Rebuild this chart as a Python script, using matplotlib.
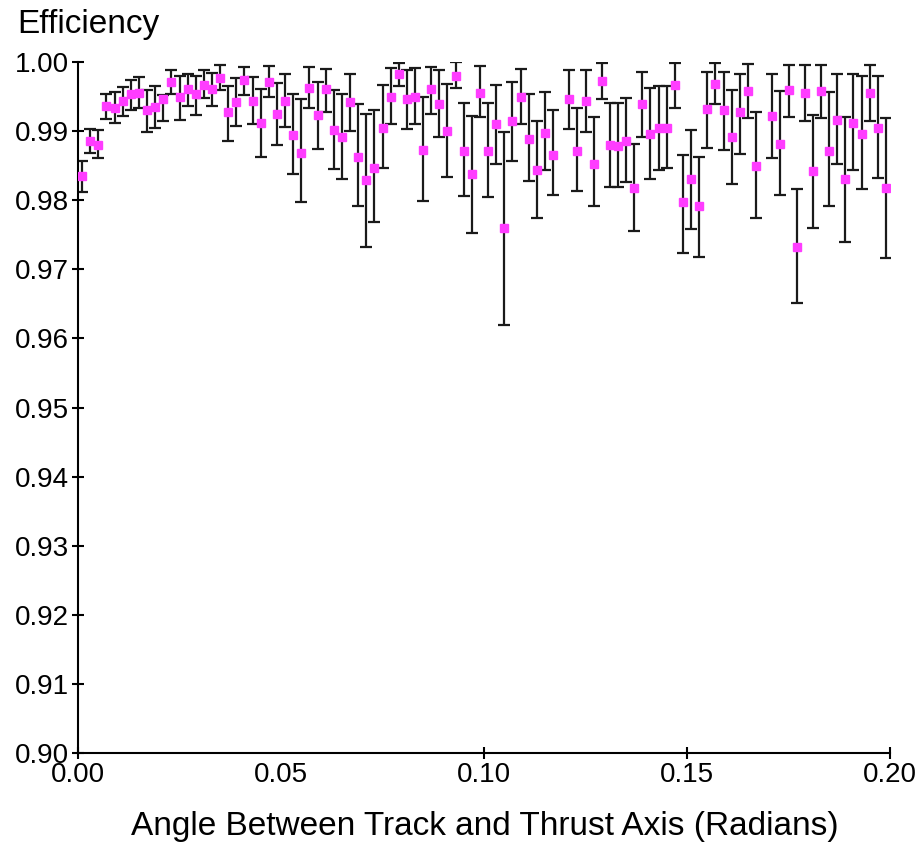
import matplotlib
matplotlib.use("Agg")
import matplotlib.pyplot as plt
import numpy as np

plt.rcParams["font.family"] = ["Liberation Sans", "DejaVu Sans"]

# bin centres (radians); two bins have no entry
angle = [
    0.001, 0.003, 0.005, 0.007, 0.009, 0.011, 0.013, 0.015, 0.017, 0.019,
    0.021, 0.023, 0.025, 0.027, 0.029, 0.031, 0.033, 0.035, 0.037, 0.039,
    0.041, 0.043, 0.045, 0.047, 0.049, 0.051, 0.053, 0.055, 0.057, 0.059,
    0.061, 0.063, 0.065, 0.067, 0.069, 0.071, 0.073, 0.075, 0.077, 0.079,
    0.081, 0.083, 0.085, 0.087, 0.089, 0.091, 0.093, 0.095, 0.097, 0.099,
    0.101, 0.103, 0.105, 0.107, 0.109, 0.111, 0.113, 0.115, 0.117, 0.119,
    0.121, 0.123, 0.125, 0.127, 0.129, 0.131, 0.133, 0.135, 0.137, 0.139,
    0.141, 0.143, 0.145, 0.147, 0.149, 0.151, 0.153, 0.155, 0.157, 0.159,
    0.161, 0.163, 0.165, 0.167, 0.169, 0.171, 0.173, 0.175, 0.177, 0.179,
    0.181, 0.183, 0.185, 0.187, 0.189, 0.191, 0.193, 0.195, 0.197, 0.199,
]
efficiency = [
    0.9835, 0.9886, 0.9880, 0.9936, 0.9934, 0.9944, 0.9953, 0.9955, 0.9930, 0.9935,
    0.9947, 0.9971, 0.9950, 0.9961, 0.9953, 0.9967, 0.9961, 0.9977, 0.9927, 0.9942,
    0.9974, 0.9944, 0.9912, 0.9971, 0.9925, 0.9944, 0.9894, 0.9868, 0.9963, 0.9923,
    0.9961, 0.9902, 0.9891, 0.9942, 0.9863, 0.9829, 0.9847, 0.9905, 0.9950, 0.9982,
    0.9946, 0.9950, 0.9872, 0.9961, 0.9939, 0.9900, 0.9980, 0.9871, 0.9838, 0.9955,
    0.9871, 0.9910, 0.9760, 0.9915, 0.9950, 0.9889, 0.9843, 0.9897, 0.9866, None,
    0.9946, 0.9871, 0.9944, 0.9853, 0.9972, 0.9880, 0.9879, 0.9886, 0.9818, 0.9939,
    0.9896, 0.9904, 0.9905, 0.9966, 0.9797, 0.9830, 0.9791, 0.9932, 0.9968, 0.9930,
    0.9891, 0.9927, 0.9958, 0.9850, None, 0.9922, 0.9881, 0.9960, 0.9732, 0.9955,
    0.9842, 0.9958, 0.9871, 0.9916, 0.9831, 0.9911, 0.9896, 0.9955, 0.9905, 0.9818,
]
err_up = [
    0.0022, 0.0017, 0.0022, 0.0017, 0.0022, 0.0020, 0.0021, 0.0023, 0.0030, 0.0030,
    0.0005, 0.0018, 0.0030, 0.0021, 0.0027, 0.0021, 0.0023, 0.0018, 0.0038, 0.0035,
    0.0019, 0.0035, 0.0049, 0.0023, 0.0044, 0.0038, 0.0059, 0.0079, 0.0030, 0.0048,
    0.0029, 0.0058, 0.0062, 0.0041, 0.0076, 0.0096, 0.0083, 0.0061, 0.0041, 0.0017,
    0.0043, 0.0041, 0.0077, 0.0032, 0.0049, 0.0068, 0.0020, 0.0070, 0.0084, 0.0039,
    0.0070, 0.0056, 0.0139, 0.0056, 0.0040, 0.0064, 0.0071, 0.0059, 0.0064, None,
    0.0042, 0.0062, 0.0044, 0.0067, 0.0027, 0.0061, 0.0062, 0.0062, 0.0064, 0.0046,
    0.0067, 0.0061, 0.0060, 0.0033, 0.0069, 0.0072, 0.0072, 0.0053, 0.0031, 0.0055,
    0.0069, 0.0056, 0.0039, 0.0077, None, 0.0060, 0.0077, 0.0035, 0.0084, 0.0041,
    0.0082, 0.0038, 0.0085, 0.0066, 0.0090, 0.0072, 0.0084, 0.0041, 0.0075, 0.0101,
]
err_down = [
    0.0023, 0.0017, 0.0019, 0.0019, 0.0022, 0.0022, 0.0022, 0.0022, 0.0031, 0.0030,
    0.0032, 0.0017, 0.0034, 0.0025, 0.0029, 0.0019, 0.0025, 0.0018, 0.0042, 0.0034,
    0.0022, 0.0034, 0.0049, 0.0022, 0.0045, 0.0038, 0.0056, 0.0071, 0.0030, 0.0049,
    0.0034, 0.0057, 0.0060, 0.0042, 0.0072, 0.0097, 0.0079, 0.0059, 0.0040, 0.0017,
    0.0043, 0.0040, 0.0073, 0.0036, 0.0047, 0.0066, 0.0017, 0.0065, 0.0086, 0.0035,
    0.0066, 0.0058, 0.0141, 0.0058, 0.0040, 0.0061, 0.0069, 0.0054, 0.0058, None,
    0.0043, 0.0058, 0.0045, 0.0061, 0.0025, 0.0061, 0.0060, 0.0059, 0.0063, 0.0047,
    0.0065, 0.0061, 0.0059, 0.0032, 0.0073, 0.0072, 0.0073, 0.0056, 0.0029, 0.0057,
    0.0068, 0.0060, 0.0039, 0.0076, None, 0.0061, 0.0073, 0.0039, 0.0081, 0.0041,
    0.0082, 0.0039, 0.0080, 0.0064, 0.0091, 0.0068, 0.0080, 0.0041, 0.0073, 0.0101,
]
x_ticks = [0.00, 0.05, 0.10, 0.15, 0.20]
y_ticks = [0.90, 0.91, 0.92, 0.93, 0.94, 0.95, 0.96, 0.97, 0.98, 0.99, 1.00]


def main() -> None:
    x = np.array(angle, dtype=float)
    y = np.array(efficiency, dtype=float)
    up = np.array(err_up, dtype=float)
    down = np.array(err_down, dtype=float)
    ok = ~np.isnan(y)

    fig = plt.figure(figsize=(9.21, 8.44), dpi=100)
    ax = fig.add_axes([78 / 921, 1 - 753 / 844, (890 - 78) / 921, (753 - 62) / 844])

    ax.errorbar(x[ok], y[ok], yerr=[down[ok], up[ok]], fmt="none", ecolor="#1a1a1a",
                elinewidth=1.6, capsize=4.2, capthick=1.6, zorder=2)
    ax.plot(x[ok], y[ok], ls="none", marker="s", ms=6.3, mfc="#ff3cff", mec="#ff3cff", zorder=3)

    ax.set_xlim(0.0, 0.2)
    ax.set_ylim(0.90, 1.00)
    ax.set_xticks(x_ticks)
    ax.set_xticklabels([f"{v:.2f}" for v in x_ticks])
    ax.set_yticks(y_ticks)
    ax.set_yticklabels([f"{v:.2f}" for v in y_ticks])
    for side in ("top", "right"):
        ax.spines[side].set_visible(False)
    for side in ("left", "bottom"):
        ax.spines[side].set_linewidth(1.5)
    ax.tick_params(direction="inout", length=9, width=1.5, labelsize=20, pad=2)
    ax.xaxis.get_major_ticks()[1].tick1line.set_visible(False)

    fig.text(17 / 921, 1 - 25 / 844, "Efficiency", fontsize=24, ha="left", va="center")
    fig.text(485 / 921, 1 - 826 / 844, "Angle Between Track and Thrust Axis (Radians)",
             fontsize=24, ha="center", va="center")

    fig.savefig("out.png", dpi=100)
    plt.close(fig)


if __name__ == "__main__":
    main()
